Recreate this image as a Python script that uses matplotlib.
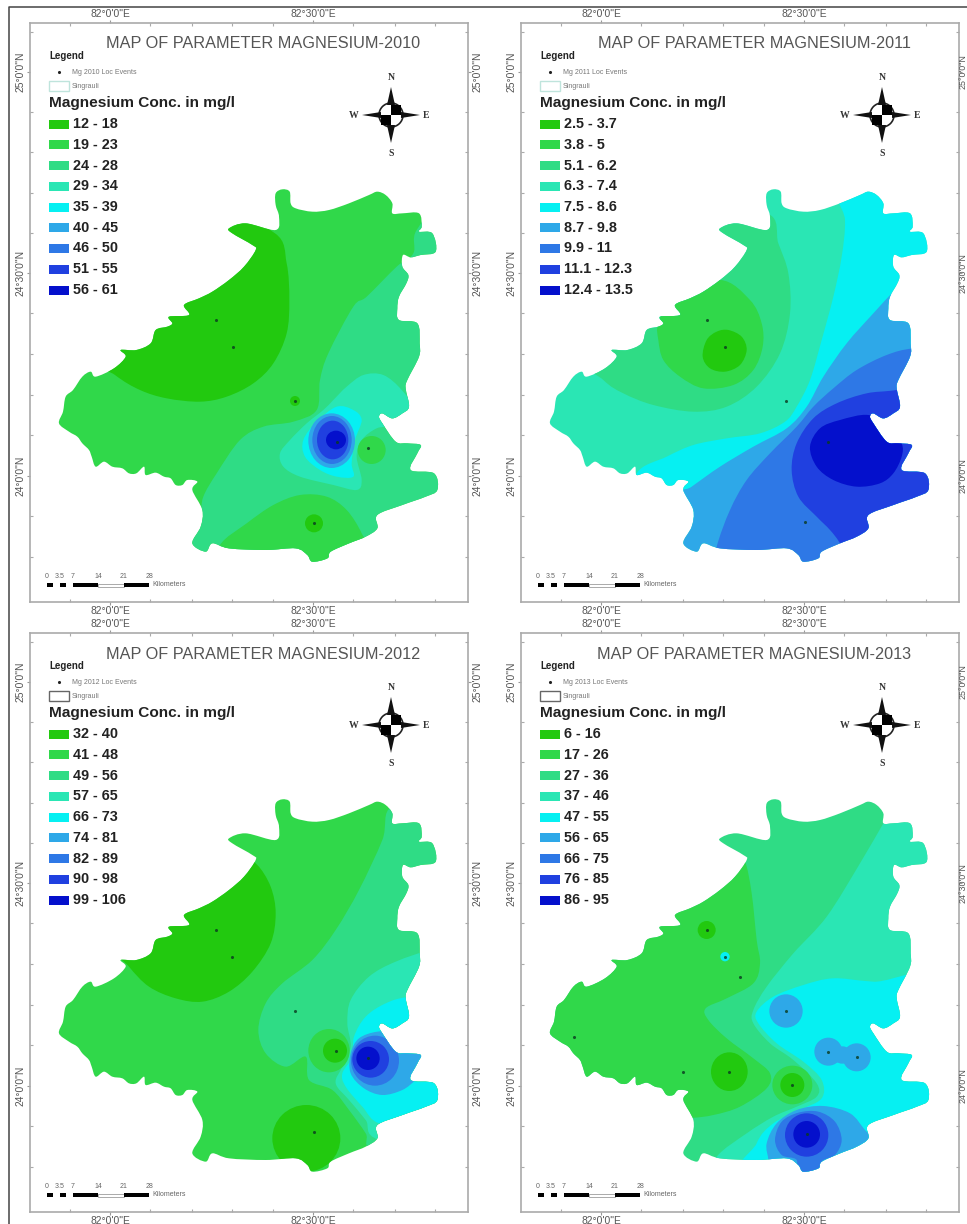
import matplotlib
matplotlib.use("Agg")
import matplotlib.pyplot as plt
from matplotlib.lines import Line2D
from matplotlib.patches import Circle, Ellipse, PathPatch, Polygon, Rectangle
from matplotlib.path import Path

plt.rcParams['font.family'] = ['Liberation Sans', 'DejaVu Sans']

years = ["2010", "2011", "2012", "2013"]
colors = ["#22c90f", "#30d84a", "#2fdc85", "#2ae6b4", "#06f0f2",
          "#2ea8e8", "#2e78e6", "#2040e0", "#0410cc"]
class_labels = {
    "2010": ["12 - 18", "19 - 23", "24 - 28", "29 - 34", "35 - 39", "40 - 45", "46 - 50", "51 - 55", "56 - 61"],
    "2011": ["2.5 - 3.7", "3.8 - 5", "5.1 - 6.2", "6.3 - 7.4", "7.5 - 8.6", "8.7 - 9.8", "9.9 - 11", "11.1 - 12.3", "12.4 - 13.5"],
    "2012": ["32 - 40", "41 - 48", "49 - 56", "57 - 65", "66 - 73", "74 - 81", "82 - 89", "90 - 98", "99 - 106"],
    "2013": ["6 - 16", "17 - 26", "27 - 36", "37 - 46", "47 - 55", "56 - 65", "66 - 75", "76 - 85", "86 - 95"],
}
box_edge = {"2010": "#bfe4dc", "2011": "#bfe4dc", "2012": "#666666", "2013": "#666666"}

# district outline, map grid units
outline = [
    (680, 40), (700, 28), (722, 35), (725, 70), (740, 85), (790, 95), (840, 90), (900, 70), (960, 45), (985, 35),
    (1010, 45), (1030, 70), (1030, 100), (1060, 100), (1110, 100), (1118, 140), (1110, 155), (1150, 160), (1160, 215),
    (1115, 225), (1085, 232), (1062, 225), (1060, 260), (1078, 285), (1072, 310), (1050, 350), (1045, 385), (1050, 420),
    (1105, 430), (1112, 490), (1110, 530), (1075, 600), (1070, 625), (1080, 680), (1060, 700), (1030, 715), (1000, 700),
    (990, 710), (1000, 730), (1040, 785), (1075, 790), (1115, 795), (1105, 820), (1085, 870), (1155, 880), (1165, 930),
    (1130, 950), (1060, 975), (985, 1005), (985, 1045), (950, 1070), (900, 1090), (845, 1115), (835, 1135), (790, 1145),
    (775, 1125), (740, 1105), (650, 1110), (540, 1105), (490, 1090), (470, 1115), (430, 1090), (455, 1040), (460, 990),
    (430, 930), (445, 905), (415, 900), (400, 915), (380, 915), (365, 895), (345, 890), (320, 878), (290, 885), (285, 860),
    (262, 880), (240, 880), (220, 865), (190, 860), (165, 845), (140, 860), (128, 830), (120, 810), (100, 790), (85, 770),
    (60, 755), (30, 730), (42, 695), (50, 650), (72, 630), (100, 590), (125, 575), (140, 590), (195, 565), (230, 530),
    (215, 510), (262, 510), (305, 490), (320, 450), (355, 440), (370, 430), (360, 410), (420, 405), (405, 375), (450, 355),
    (490, 335), (540, 300), (585, 260), (620, 210), (610, 195), (550, 160), (540, 145), (590, 130), (680, 150), (690, 110),
    (680, 75),
]

# base class, then contour bands as (class, points) and spots as (class, x, y, rx, ry)
base = {"2010": 1, "2011": 3, "2012": 1, "2013": 2}
bands_2010 = [
    (2, [(1200, 60), (1103, 150), (1093, 220), (1043, 260), (953, 350), (913, 380), (838, 520), (813, 600), (803, 690),
         (733, 725), (643, 740), (573, 780), (503, 880), (463, 950), (453, 1010), (423, 1100), (400, 1180), (800, 1200),
         (1250, 1100), (1280, 300)]),
    (0, [(678, 160), (713, 250), (721, 360), (713, 460), (673, 550), (613, 610), (533, 650), (453, 665), (353, 655),
         (273, 630), (198, 585), (100, 500), (300, 250), (500, 100)]),
    (3, [(853, 660), (893, 620), (943, 585), (1003, 585), (1058, 630), (1093, 690), (1033, 735), (983, 745), (938, 780),
         (923, 830), (938, 900), (923, 930), (853, 915), (753, 890), (703, 860), (693, 820), (723, 780), (773, 730), (823, 690)]),
    (4, [(863, 680), (913, 690), (938, 720), (918, 780), (908, 850), (913, 890), (863, 890), (813, 870), (768, 830),
         (763, 780), (803, 725)]),
    (1, [(513, 1095), (593, 1030), (673, 975), (753, 945), (833, 950), (893, 990), (938, 1060), (953, 1120), (800, 1190),
         (500, 1180)]),
]
spots_2010 = [(5, 848, 782, 70, 82), (6, 849, 780, 59, 72), (7, 851, 780, 47, 58), (8, 861, 780, 30, 28),
              (1, 968, 810, 42, 42), (0, 738, 663, 15, 15), (0, 795, 1030, 27, 27)]

bands_2011 = [
    (4, [(900, 0), (915, 120), (905, 230), (880, 350), (845, 480), (810, 600), (770, 680), (735, 725), (660, 760),
         (560, 775), (460, 795), (380, 830), (290, 880), (280, 1000), (700, 1000), (1200, 800), (1200, 0)]),
    (2, [(680, 100), (715, 190), (745, 280), (750, 400), (720, 520), (650, 620), (560, 680), (460, 695), (340, 675),
         (250, 640), (190, 600), (100, 500), (300, 300), (450, 100)]),
    (1, [(540, 300), (630, 360), (665, 430), (668, 500), (640, 570), (580, 615), (490, 625), (420, 590), (370, 540),
         (355, 480), (355, 430), (400, 350)]),
    (0, [(565, 450), (605, 470), (620, 510), (600, 555), (555, 575), (510, 565), (488, 530), (500, 480), (530, 455)]),
    (5, [(1100, 300), (1065, 330), (1000, 400), (920, 490), (850, 590), (800, 680), (740, 745), (640, 800), (540, 860),
         (455, 920), (400, 960), (380, 1180), (1200, 1180), (1250, 500)]),
    (6, [(1120, 505), (1040, 525), (950, 570), (880, 625), (820, 680), (770, 740), (690, 820), (620, 900), (570, 990),
         (530, 1100), (520, 1180), (1250, 1180), (1250, 500)]),
    (7, [(1070, 630), (980, 640), (890, 670), (820, 715), (770, 790), (755, 870), (775, 950), (830, 1010), (870, 1050),
         (900, 1090), (950, 1180), (1250, 1100), (1250, 600)]),
    (8, [(985, 705), (900, 720), (840, 745), (810, 800), (830, 860), (880, 900), (950, 920), (1020, 910), (1060, 880),
         (1085, 830), (1085, 790), (1050, 740)]),
]
spots_2011 = []

bands_2012 = [
    (0, [(625, 225), (665, 290), (680, 370), (665, 460), (610, 545), (540, 605), (460, 635), (380, 625), (300, 590),
         (240, 530), (200, 470), (330, 400), (480, 300), (590, 220)]),
    (2, [(1030, 50), (1000, 150), (930, 300), (860, 420), (790, 510), (700, 580), (650, 640), (628, 720), (650, 790),
         (710, 830), (770, 800), (780, 870), (850, 900), (900, 960), (950, 1030), (975, 1080), (1200, 1100), (1250, 500),
         (1200, 60)]),
    (3, [(1150, 480), (1040, 515), (960, 560), (905, 630), (895, 700), (905, 770), (880, 830), (860, 880), (900, 930),
         (950, 990), (990, 1050), (1250, 1100), (1250, 480)]),
    (4, [(1080, 620), (1010, 640), (950, 680), (915, 740), (910, 800), (880, 850), (890, 890), (940, 950), (990, 1000),
         (1100, 1000), (1250, 1000), (1250, 600)]),
    (5, [(985, 725), (930, 745), (905, 790), (905, 850), (945, 895), (1000, 915), (1060, 900), (1100, 870), (1130, 840),
         (1130, 780), (1040, 730)]),
]
spots_2012 = [(6, 978, 812, 72, 75), (7, 965, 808, 55, 55), (8, 957, 805, 35, 35), (1, 840, 782, 62, 65),
              (0, 858, 782, 36, 36), (0, 772, 1045, 102, 100)]

bands_2013 = [
    (1, [(615, 215), (635, 310), (650, 450), (660, 520), (640, 580), (560, 625), (497, 655), (505, 690), (560, 745),
         (640, 805), (690, 850), (680, 895), (600, 950), (520, 975), (440, 985), (200, 1000), (0, 750), (0, 500),
         (200, 470), (330, 400), (480, 300), (590, 220)]),
    (3, [(1060, 50), (1030, 100), (960, 220), (860, 380), (760, 490), (680, 590), (640, 660), (640, 700), (690, 760),
         (760, 810), (830, 880), (830, 920), (770, 950), (700, 980), (620, 1030), (530, 1100), (500, 1180), (1250, 1180),
         (1250, 50)]),
    (4, [(1250, 590), (1000, 575), (880, 565), (790, 585), (700, 620), (650, 665), (655, 700), (710, 760), (790, 815),
         (845, 870), (845, 925), (780, 960), (700, 1000), (650, 1060), (625, 1180), (1250, 1180)]),
    (5, [(685, 1110), (680, 1060), (710, 1000), (770, 960), (850, 948), (930, 970), (975, 1020), (1010, 1060), (950, 1120),
         (800, 1170), (680, 1130)]),
    (6, [(705, 1050), (725, 995), (775, 968), (835, 965), (885, 995), (905, 1050), (885, 1095), (845, 1115), (845, 1160),
         (770, 1160), (770, 1110), (725, 1095)]),
]
spots_2013 = [(7, 800, 1035, 65, 65), (8, 800, 1033, 40, 40), (5, 738, 663, 50, 50), (5, 865, 785, 42, 42),
              (5, 950, 802, 42, 42), (5, 907, 795, 30, 26), (0, 500, 420, 27, 27), (0, 568, 845, 55, 58),
              (1, 757, 885, 60, 58), (0, 757, 885, 36, 36), (4, 555, 500, 14, 14)]

bands = {"2010": bands_2010, "2011": bands_2011, "2012": bands_2012, "2013": bands_2013}
spots = {"2010": spots_2010, "2011": spots_2011, "2012": spots_2012, "2013": spots_2013}

# sampling sites
sites = {
    "2010": [(500, 420), (552, 500), (737, 663), (958, 805), (795, 1030), (865, 785)],
    "2011": [(500, 420), (555, 500), (737, 663), (795, 1027), (865, 785)],
    "2012": [(500, 420), (550, 500), (737, 663), (862, 783), (795, 1027), (957, 805)],
    "2013": [(500, 420), (555, 500), (600, 560), (737, 663), (102, 742), (430, 845), (568, 845), (757, 885),
             (865, 785), (950, 802), (800, 1033)],
}

scale_km = [0, 3.5, 7, 14, 21, 28]
scale_text = ["0", "3.5", "7", "14", "21", "28"]
scale_black = [(0, 1.75), (3.5, 5.25), (7, 14), (21, 28)]
lon_labels = ["82°0'0\"E", "82°30'0\"E"]
lat_labels = ["25°0'0\"N", "24°30'0\"N", "24°0'0\"N"]


def px(pts):
    return [(49 + x / 3, 180 + y / 3) for x, y in pts]


def smooth_path(pts):
    # closed Catmull-Rom through the points
    n = len(pts)
    verts = [pts[0]]
    codes = [Path.MOVETO]
    for i in range(n):
        p0, p1, p2, p3 = pts[i - 1], pts[i], pts[(i + 1) % n], pts[(i + 2) % n]
        verts.append((p1[0] + (p2[0] - p0[0]) / 6, p1[1] + (p2[1] - p0[1]) / 6))
        verts.append((p2[0] - (p3[0] - p1[0]) / 6, p2[1] - (p3[1] - p1[1]) / 6))
        verts.append(p2)
        codes += [Path.CURVE4] * 3
    return Path(verts, codes)


def compass(ax, cx, cy):
    ax.add_patch(Circle((cx, cy), 12, fc="white", ec="#222222", lw=1.2, zorder=5))
    ax.add_patch(Rectangle((cx, cy - 10), 10, 10, fc="black", ec="none", zorder=6))
    ax.add_patch(Rectangle((cx - 10, cy), 10, 10, fc="black", ec="none", zorder=6))
    arms = [[(cx - 4, cy - 10), (cx, cy - 28), (cx + 4, cy - 10)],
            [(cx - 4, cy + 10), (cx, cy + 28), (cx + 4, cy + 10)],
            [(cx - 10, cy - 3), (cx - 29, cy), (cx - 10, cy + 3)],
            [(cx + 10, cy - 3), (cx + 29, cy), (cx + 10, cy + 3)]]
    for arm in arms:
        ax.add_patch(Polygon(arm, fc="#111111", ec="none", zorder=6))
    for s, dx, dy in [("N", 0, -38), ("S", 0, 38), ("W", -37, 0), ("E", 35, 0)]:
        ax.text(cx + dx, cy + dy, s, family="Liberation Serif", fontsize=7, fontweight="bold",
                color="#333333", ha="center", va="center")


def draw_panel(ax, year, last_col):
    ax.set_xlim(30, 468)
    ax.set_ylim(602, 23)

    # frame and graticule
    for s in ax.spines.values():
        s.set_color("#aaaaaa")
        s.set_linewidth(1.2)
    ax.set_xticks([110, 313], lon_labels)
    ax.set_yticks([72, 273, 476], lat_labels)
    ax.set_xticks([70, 150, 192, 232, 273, 353, 395, 435], minor=True)
    ax.set_yticks([32, 112, 152, 193, 233, 313, 354, 395, 435, 516, 557], minor=True)
    ax.tick_params(which="major", top=True, right=True, labeltop=True, labelright=not last_col, length=2.5, width=0.8,
                   color="#999999", labelsize=7.4, labelcolor="#555555", pad=0.5)
    ax.tick_params(which="minor", top=True, right=True, direction="in", length=2.5, width=0.8, color="#aaaaaa")
    plt.setp(ax.get_yticklabels(), rotation=90, va="center")
    if last_col:
        # right labels sit hard against the page edge
        for y, s in zip([72, 273, 476], lat_labels):
            ax.text(472.5, y, s, rotation=90, fontsize=6.4, color="#555555", ha="center", va="center", clip_on=False)

    # map
    clip = PathPatch(smooth_path(px(outline)), fc=colors[base[year]], ec="none", zorder=1)
    ax.add_patch(clip)
    for z, (cls, pts) in enumerate(bands[year]):
        p = PathPatch(smooth_path(px(pts)), fc=colors[cls], ec="none", zorder=2 + z * 0.01)
        ax.add_patch(p)
        p.set_clip_path(clip)
    for z, (cls, x, y, rx, ry) in enumerate(spots[year]):
        (cx, cy), = px([(x, y)])
        p = Ellipse((cx, cy), 2 * rx / 3, 2 * ry / 3, fc=colors[cls], ec="none", zorder=3 + z * 0.01)
        ax.add_patch(p)
        p.set_clip_path(clip)
    xs, ys = zip(*px(sites[year]))
    ax.scatter(xs, ys, s=5, color="#0a3a20", alpha=0.8, linewidths=0, zorder=4)

    ax.text(263, 44, "MAP OF PARAMETER MAGNESIUM-" + year, fontsize=11.7, color="#555555", ha="center", va="center")

    # legend
    ax.text(49, 56, "Legend", fontsize=7, fontweight="bold", color="#222222", va="center")
    ax.scatter([59], [72], s=5, color="#222222", linewidths=0)
    ax.text(72, 72.5, "Mg " + year + " Loc Events", fontsize=5, color="#777777", va="center")
    ax.add_patch(Rectangle((49, 81), 20, 10, fc="white", ec=box_edge[year], lw=1))
    ax.text(72, 86, "Singrauli", fontsize=5, color="#777777", va="center")
    ax.text(49, 103, "Magnesium Conc. in mg/l", fontsize=11.1, fontweight="bold", color="#222222", va="center")
    for i, label in enumerate(class_labels[year]):
        y = 124 + i * 20.75
        ax.add_patch(Rectangle((49, y - 4.5), 20, 9, fc=colors[i], ec="none"))
        ax.text(73, y, label, fontsize=10.4, fontweight="bold", color="#222222", va="center")

    compass(ax, 391, 115)

    # scale bar
    km_x = lambda km: 47 + km * 3.65
    ax.add_patch(Rectangle((km_x(14), 583.5), km_x(21) - km_x(14), 3.5, fc="white", ec="#888888", lw=0.5))
    for a, b in scale_black:
        ax.add_patch(Rectangle((km_x(a), 583), km_x(b) - km_x(a), 4, fc="black", ec="none"))
    for km, s in zip(scale_km, scale_text):
        ax.text(km_x(km), 577, s, fontsize=5, color="#666666", ha="center", va="center")
    ax.text(152, 585, "Kilometers", fontsize=5, color="#666666", va="center")


fig = plt.figure(figsize=(9.67, 12.24))
W, H = 967, 1224
fig.add_artist(Line2D([9 / W, 9 / W, 1], [0, 1 - 7 / H, 1 - 7 / H], color="#444444", lw=1.1))
offsets = [(0, 0), (491, 0), (0, 610), (491, 610)]
for year, (dx, dy) in zip(years, offsets):
    ax = fig.add_axes([(30 + dx) / W, 1 - (602 + dy) / H, 438 / W, 579 / H])
    draw_panel(ax, year, dx > 0)

plt.savefig("out.png", dpi=100)
